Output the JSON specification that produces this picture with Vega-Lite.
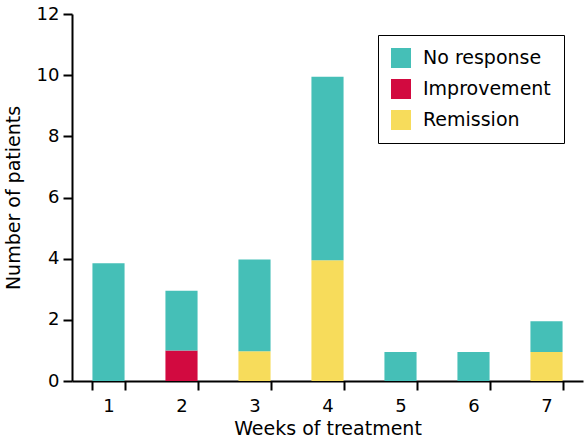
{
  "$schema": "https://vega.github.io/schema/vega-lite/v6.json",
  "width": 511,
  "height": 367,
  "autosize": "none",
  "padding": {"left": 72, "top": 14, "right": 1, "bottom": 63},
  "background": "white",
  "data": {"values": [
    {"week": "1", "response": "No response", "count": 3.85, "ord": 2},
    {"week": "2", "response": "Improvement", "count": 1.0, "ord": 1},
    {"week": "2", "response": "No response", "count": 1.95, "ord": 2},
    {"week": "3", "response": "Remission", "count": 0.97, "ord": 0},
    {"week": "3", "response": "No response", "count": 3.0, "ord": 2},
    {"week": "4", "response": "Remission", "count": 3.95, "ord": 0},
    {"week": "4", "response": "No response", "count": 6.0, "ord": 2},
    {"week": "5", "response": "No response", "count": 0.95, "ord": 2},
    {"week": "6", "response": "No response", "count": 0.95, "ord": 2},
    {"week": "7", "response": "Remission", "count": 0.95, "ord": 0},
    {"week": "7", "response": "No response", "count": 1.0, "ord": 2}
  ]},
  "mark": {"type": "bar"},
  "encoding": {
    "x": {
      "field": "week", "type": "ordinal",
      "scale": {"paddingInner": 0.56, "paddingOuter": 0.28},
      "axis": {
        "title": "Weeks of treatment", "labelAngle": 0, "tickBand": "extent",
        "domainColor": "black", "domainWidth": 2, "tickColor": "black", "tickWidth": 2, "tickSize": 9,
        "labelFont": "DejaVu Sans", "labelFontSize": 18, "labelColor": "black", "labelPadding": 7,
        "titleFont": "DejaVu Sans", "titleFontSize": 19, "titleFontWeight": "normal", "titleColor": "black", "titlePadding": 4
      }
    },
    "y": {
      "field": "count", "type": "quantitative", "stack": "zero",
      "scale": {"domain": [0, 12], "nice": false},
      "axis": {
        "title": "Number of patients", "values": [0, 2, 4, 6, 8, 10, 12], "grid": false,
        "domainColor": "black", "domainWidth": 2, "tickColor": "black", "tickWidth": 2, "tickSize": 9,
        "labelFont": "DejaVu Sans", "labelFontSize": 18, "labelColor": "black", "labelPadding": 4,
        "titleFont": "DejaVu Sans", "titleFontSize": 19, "titleFontWeight": "normal", "titleColor": "black", "titlePadding": 13
      }
    },
    "color": {
      "field": "response", "type": "nominal",
      "scale": {"domain": ["No response", "Improvement", "Remission"], "range": ["#45BFB7", "#D20A40", "#F7DC5B"]},
      "legend": {
        "title": null, "orient": "none", "legendX": 306, "legendY": 21,
        "fillColor": "white", "strokeColor": "black", "padding": 13,
        "symbolType": "square", "symbolSize": 400, "symbolStrokeWidth": 0,
        "labelFont": "DejaVu Sans", "labelFontSize": 19, "labelColor": "black",
        "rowPadding": 11, "labelOffset": 12, "labelLimit": 300
      }
    },
    "order": {"field": "ord", "type": "quantitative"}
  },
  "config": {"view": {"stroke": null}}
}
